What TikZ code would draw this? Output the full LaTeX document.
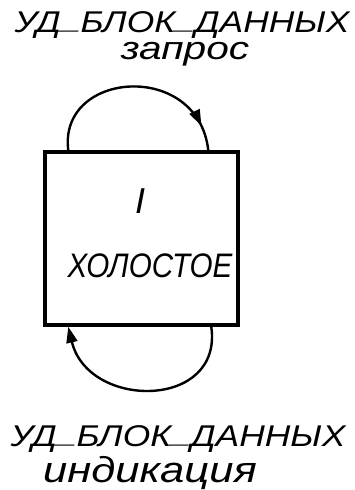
\documentclass[tikz,border=0pt]{standalone}
\usepackage{fontspec}
\setmainfont{Liberation Sans}
\usetikzlibrary{calc,arrows.meta,decorations.markings}
\newcommand{\usc}{\raisebox{4pt}{\_}}
\begin{document}
\begin{tikzpicture}[x=1pt,y=-1pt,
  lbl/.style={inner sep=0pt,anchor=base,font=\itshape},
  arcline/.style={line width=2.4pt,line cap=round},
  tip/.style={-{Triangle[length=16pt,width=11pt]}}]
\useasboundingbox (0,0) rectangle (354,490);
\node[lbl] (t1) at (182,32) {\fontsize{30}{32}\selectfont\scalebox{1.18}[1]{УД\usc БЛОК\usc ДАННЫХ}};
\node[lbl] (t2) at (185,59) {\fontsize{32}{34}\selectfont\scalebox{1.27}[1]{запрос}};
\node[draw,line width=3.5pt,minimum width=193pt,minimum height=173pt,inner sep=0pt] (st) at (141.5,238.5) {};
\node[lbl] (n1) at (140,213) {\fontsize{36}{38}\selectfont I};
\node[lbl] (n2) at (150,277) {\fontsize{34}{36}\selectfont\scalebox{0.87}[1]{ХОЛОСТОЕ}};
\node[lbl] (b1) at (178,446) {\fontsize{30}{32}\selectfont\scalebox{1.18}[1]{УД\usc БЛОК\usc ДАННЫХ}};
\node[lbl] (b2) at (150,482) {\fontsize{36}{38}\selectfont\scalebox{1.21}[1]{индикация}};
\coordinate (a1) at ($(st.north west)+(25,0)$);
\coordinate (a2) at ($(st.north west)+(165,0)$);
\coordinate (c1) at ($(st.south west)+(168,0)$);
\coordinate (c2) at ($(st.south west)+(25,0)$);
\draw[arcline,decoration={markings,mark=at position 0.88 with {\arrow{Triangle[length=16pt,width=11pt]}}},postaction={decorate}]
  (a1) .. controls ($(a1)+(-10,-80)$) and ($(a2)+(-10,-90)$) .. (a2);
\draw[arcline,tip] (c1) .. controls ($(c1)+(12,83)$) and ($(c2)+(20,83)$) .. (c2);
\end{tikzpicture}
\end{document}
